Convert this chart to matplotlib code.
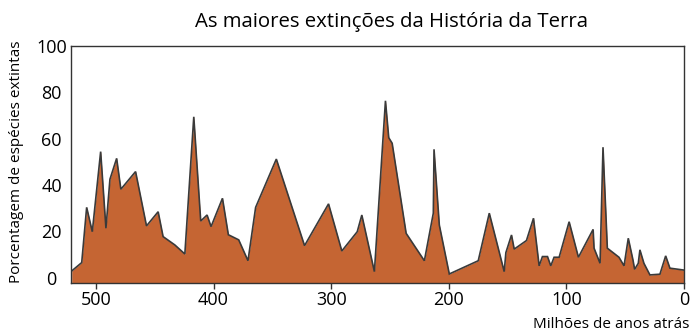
import matplotlib
matplotlib.use("Agg")
import matplotlib.pyplot as plt

plt.rcParams['font.family'] = ['Open Sans', 'DejaVu Sans']

# Extinction intensity through the Phanerozoic (millions of years ago, % of species lost)
ages_ma = [520.6, 512.1, 507.9, 503.1, 496.0, 491.5, 488.1, 482.4, 478.8, 466.3,
           457.0, 447.1, 442.9, 432.9, 424.4, 416.8, 410.9, 405.5, 402.1, 392.4,
           387.4, 378.6, 370.7, 364.2, 346.6, 322.6, 302.2, 290.9, 277.8, 273.9,
           263.2, 253.8, 251.0, 248.1, 236.2, 220.7, 213.1, 212.5, 208.0, 199.5,
           174.9, 165.5, 152.8, 151.4, 146.6, 144.3, 133.9, 127.9, 123.1, 120.3,
           116.0, 113.2, 110.4, 106.1, 97.6, 89.7, 77.2, 76.4, 71.3, 68.8,
           65.1, 55.2, 50.9, 47.3, 43.3, 41.9, 38.8, 37.4, 34.0, 28.9,
           20.4, 15.5, 11.9, 0.3]
extinct_pct = [3.0, 6.6, 30.4, 19.9, 54.4, 21.4, 42.5, 51.5, 38.2, 45.8,
               22.4, 28.5, 17.8, 14.2, 10.3, 69.4, 24.5, 27.1, 22.1, 34.3,
               18.6, 16.4, 7.4, 30.4, 51.2, 13.9, 31.9, 11.6, 19.9, 27.1,
               2.7, 76.3, 60.4, 58.0, 19.2, 7.4, 27.9, 55.4, 22.8, 1.7,
               7.4, 27.9, 2.7, 10.9, 18.5, 12.4, 16.1, 25.7, 5.2, 9.2,
               9.2, 5.2, 8.9, 8.9, 24.2, 8.9, 20.9, 12.8, 6.3, 56.3,
               12.8, 8.9, 5.2, 17.1, 7.7, 3.7, 6.3, 12.1, 6.3, 1.3,
               1.6, 9.5, 4.2, 3.4]

x_ticks = [500, 400, 300, 200, 100, 0]
y_ticks = [0, 20, 40, 60, 80, 100]

fig = plt.figure(figsize=(6.99, 3.34), dpi=100)
ax = fig.add_axes([0.1016, 0.154, 0.9784 - 0.1016, 0.863 - 0.154])

ax.fill_between(ages_ma, extinct_pct, -2, color='#C56533', linewidth=0)
ax.plot(ages_ma, extinct_pct, color='#3a3a3a', linewidth=1.2, solid_joinstyle='miter')

ax.set_xlim(521.2, 0)
ax.set_ylim(-2, 100)
ax.set_xticks(x_ticks)
ax.set_yticks(y_ticks)
ax.tick_params(axis='x', length=4, width=1, color='#333333', labelsize=13, pad=2)
ax.tick_params(axis='y', length=0, labelsize=13, pad=14)
for lbl in ax.get_yticklabels():
    lbl.set_horizontalalignment('center')

for s in ax.spines.values():
    s.set_color('#333333')
    s.set_linewidth(1.0)

fig.text(0.56, 0.935, 'As maiores extinções da História da Terra',
         ha='center', va='center', fontsize=14.7)
fig.text(0.024, 0.515, 'Porcentagem de espécies extintas', rotation=90,
         ha='center', va='center', fontsize=11)
fig.text(0.986, 0.027, 'Milhões de anos atrás', ha='right', va='center', fontsize=11)

fig.savefig('out.png', dpi=100, facecolor='white')
